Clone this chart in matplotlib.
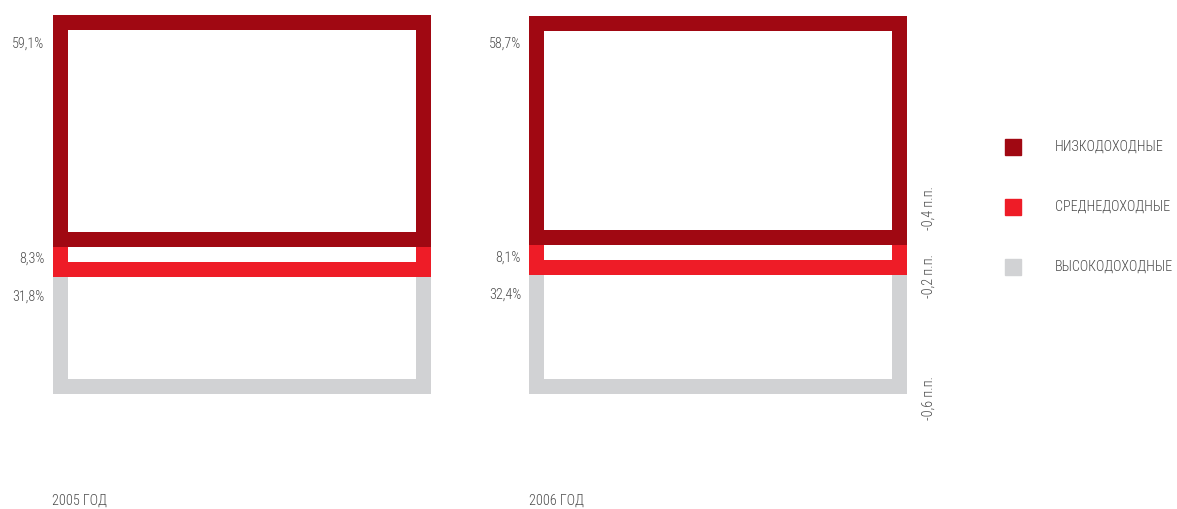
import matplotlib.pyplot as plt
from matplotlib.patches import Rectangle
from matplotlib.transforms import offset_copy

years = ["2005 ГОД", "2006 ГОД"]
groups = ["НИЗКОДОХОДНЫЕ", "СРЕДНЕДОХОДНЫЕ", "ВЫСОКОДОХОДНЫЕ"]
shares_2005 = [59.1, 8.3, 31.8]
shares_2006 = [58.7, 8.1, 32.4]
changes = [-0.4, -0.2, -0.6]
colors = ["#a00812", "#ee1c27", "#d1d2d4"]
text_color = "#4a4a4a"

plt.rcParams["font.family"] = ["Roboto Condensed", "DejaVu Sans"]
plt.rcParams["font.weight"] = "light"
fs = 10.2

W, H = 1177, 509
fig = plt.figure(figsize=(W / 100, H / 100), dpi=100)
ax = fig.add_axes([0, 0, 1, 1])
ax.set_xlim(-241 / 476.5, (W - 241) / 476.5)
total = sum(shares_2005)
ax.set_ylim(-123.5 / 363 * total, total + 22.5 / 363 * total)
ax.axis("off")

lw = 15 * 72 / 100
bar_w = 363 / 476.5
fmt = lambda v: f"{v:.1f}".replace(".", ",")

for i, shares in enumerate([shares_2005, shares_2006]):
    # stack from the bottom: high income first so the upper boxes sit on top
    bottoms = []
    b = 0
    for v in shares[::-1]:
        bottoms.append(b)
        b += v
    bottoms = bottoms[::-1]
    for k in range(len(shares) - 1, -1, -1):
        ax.bar(i, shares[k], bottom=bottoms[k], width=bar_w, facecolor="none",
               edgecolor=colors[k], linewidth=lw, zorder=3 + (2 - k))
    left = i - bar_w / 2
    for k, v in enumerate(shares):
        dy = -21 if k == 0 else -12 - 8 * k
        lab_tr = offset_copy(ax.transData, fig=fig, x=-15, y=dy, units="dots")
        ax.text(left, bottoms[k] + v, fmt(v) + "%", transform=lab_tr,
                ha="right", va="center", fontsize=fs, color=text_color)
    ax.text(left, 0, years[i],
            transform=offset_copy(ax.transData, fig=fig, x=-7, y=-115, units="dots"),
            ha="left", va="center", fontsize=fs, color=text_color)

# change in percentage points next to the 2006 column
shifts = [-29, 9, 12]
bottoms = [shares_2006[2] + shares_2006[1], shares_2006[2], 0]
for k, d in enumerate(changes):
    tr = offset_copy(ax.transData, fig=fig, x=30, y=-shifts[k], units="dots")
    ax.text(1 + bar_w / 2, bottoms[k], fmt(d) + " п.п.", transform=tr,
            rotation=90, ha="center", va="center", fontsize=fs, color=text_color)

# legend
for k, name in enumerate(groups):
    yc = 1 - (147 + 60 * k) / H
    fig.patches.append(Rectangle((1005 / W, yc - 8 / H), 16 / W, 16 / H,
                                 transform=fig.transFigure, color=colors[k]))
    fig.text(1055 / W, yc, name, ha="left", va="center", fontsize=fs,
             color=text_color)

fig.savefig("out.png", dpi=100)
plt.close(fig)
